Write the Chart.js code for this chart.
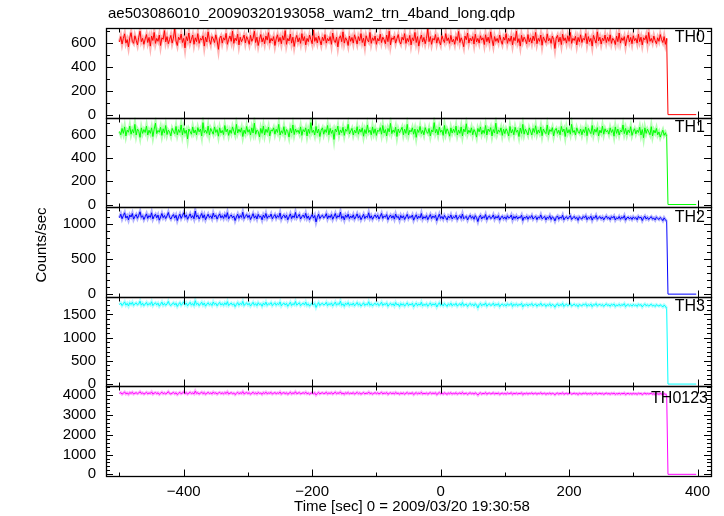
<!DOCTYPE html>
<html>
<head>
<meta charset="utf-8">
<script src="https://cdn.jsdelivr.net/npm/chart.js@4"></script>
<style>
  html, body { margin: 0; padding: 0; background: #fff; }
  #wrap { width: 724px; height: 516px; }
</style>
</head>
<body>
<div id="wrap"><canvas id="lc" width="724" height="516"></canvas></div>
<script>
// light curve: 2 s bins starting at -500 s, then the gap where counts fall to 0
const binStart = -500;
const binSize = 2;
const tailTimes = [354, 398];

const panelNames = ['TH0', 'TH1', 'TH2', 'TH3', 'TH0123'];
const panelColors = ['#ff0000', '#00ff00', '#0000ff', '#00ffff', '#ff00ff'];
const haloColors = ['rgba(255,0,0,0.3)', 'rgba(0,255,0,0.3)', 'rgba(0,0,255,0.3)', 'rgba(0,255,255,0.3)', 'rgba(255,0,255,0.3)'];

const th0 = [
  610,655,592,640,678,600,630,568,645,688,615,598,662,625,585,650,700,612,640,590,
  635,672,605,648,575,660,622,690,598,640,615,668,580,645,632,705,610,655,595,630,
  665,600,642,720,618,580,650,628,676,605,640,560,655,620,685,600,632,668,590,645,
  612,680,598,640,625,662,575,650,610,695,628,590,655,635,605,670,620,548,640,660,
  600,645,625,682,590,632,660,615,700,598,642,620,675,585,650,612,638,668,602,655,
  628,590,665,615,640,700,605,650,580,632,672,610,645,595,660,625,688,600,640,618,
  655,580,635,670,612,648,595,662,625,705,590,640,618,676,600,650,572,632,665,610,
  645,598,680,620,655,585,640,612,668,630,595,710,615,648,602,660,625,585,650,620,
  672,600,640,618,655,590,685,625,605,650,568,638,662,612,695,600,645,625,580,660,
  615,648,600,670,632,592,655,620,680,605,642,575,662,628,610,690,598,645,622,660,
  590,640,618,675,605,650,628,595,668,612,700,585,645,630,660,600,638,672,615,592,
  650,625,680,598,640,612,665,585,645,620,690,605,655,575,632,668,610,648,595,640,
  718,612,655,590,640,625,672,600,648,615,585,662,630,605,680,620,645,598,665,610,
  632,590,655,622,698,605,645,615,570,660,628,685,600,642,618,655,592,675,610,640,
  600,662,625,645,588,670,612,650,600,695,630,578,655,615,640,605,668,622,590,650,
  625,680,598,642,615,660,585,648,620,700,605,638,575,665,612,650,628,595,672,610,
  645,600,660,620,690,595,640,615,668,582,652,625,605,678,618,640,598,660,630,555,
  642,665,610,650,588,675,620,645,600,662,615,690,598,640,622,658,585,648,612,670,
  605,640,625,680,595,655,612,640,575,665,630,600,695,618,650,592,642,620,668,605,
  650,615,670,598,640,625,588,660,612,685,600,645,622,655,578,638,668,610,648,595,
  662,620,640,600,675,612,650,585,645,628,665,598,690,615,640,605,660,622,595,645,
  615,672,630,605,655,590,640,
  0, 0
];
const th1 = [
  628,600,655,612,668,590,640,622,675,605,645,615,690,598,650,630,578,660,612,645,
  620,675,598,640,612,660,585,648,700,610,638,622,665,595,652,615,680,602,640,625,
  590,655,630,610,672,600,645,620,685,598,658,612,640,565,650,628,605,668,615,642,
  600,662,625,650,590,705,618,640,612,675,598,655,630,605,668,620,645,588,660,615,
  638,602,680,625,650,595,642,612,668,630,600,690,615,648,622,660,585,640,610,672,
  622,645,598,660,615,700,605,640,628,582,655,612,675,598,648,620,665,590,642,632,
  660,605,648,620,690,598,635,612,670,600,645,628,580,655,615,685,602,650,622,640,
  610,668,595,645,625,660,590,648,612,705,620,640,598,672,615,650,585,638,660,605,
  645,620,680,600,655,612,640,560,650,625,675,600,642,618,665,595,648,630,690,608,
  632,655,598,640,615,670,605,648,622,660,588,645,610,685,620,640,600,668,612,652,
  595,640,628,662,605,680,615,645,590,655,625,698,610,642,620,665,585,650,618,640,
  665,600,648,612,690,598,640,625,660,605,650,578,645,620,672,610,638,600,662,628,
  612,655,590,642,625,705,615,648,600,665,622,640,595,680,610,652,628,588,660,615,
  648,620,675,598,642,612,668,590,650,625,695,608,640,618,660,600,645,622,580,655,
  625,668,605,640,612,680,598,650,628,662,590,645,615,700,608,642,622,660,595,648,
  610,652,628,590,672,615,645,600,665,622,640,585,658,612,690,605,648,625,598,660,
  632,598,655,620,678,605,642,615,668,592,650,625,610,685,600,645,628,662,590,640,
  655,612,640,600,672,625,650,585,662,615,645,605,690,620,638,598,660,628,612,650,
  600,645,618,668,592,655,630,610,680,602,648,622,662,590,640,615,675,605,652,625,
  638,605,660,620,645,588,668,612,650,598,640,625,685,610,655,600,642,618,670,595,
  630,652,608,640,620,665,598,645,575,660,612,648,625,600,670,590,640,615,655,600,
  625,580,612,640,595,618,585,
  0, 0
];
const th2 = [
  1090,1140,1075,1120,1160,1085,1115,1060,1130,1100,1150,1070,1110,1135,1082,1125,1175,1095,1118,1065,
  1105,1145,1080,1120,1095,1160,1072,1112,1138,1088,1128,1055,1100,1150,1090,1122,1078,1115,1165,1098,
  1070,1110,1135,1085,1125,1050,1102,1140,1080,1118,1160,1095,1130,1068,1108,1145,1088,1120,1075,1185,
  1098,1125,1072,1110,1150,1085,1132,1062,1105,1140,1092,1118,1078,1155,1100,1125,1070,1112,1145,1088,
  1120,1080,1135,1095,1162,1075,1108,1130,1088,1115,1050,1100,1140,1082,1122,1095,1168,1078,1110,1135,
  1092,1125,1065,1105,1148,1085,1118,1072,1138,1098,1112,1060,1128,1090,1150,1080,1115,1102,1142,1075,
  1108,1135,1082,1120,1095,1158,1070,1112,1130,1088,1125,1060,1102,1145,1078,1118,1092,1165,1085,1110,
  1138,1072,1105,1128,1090,1152,1080,1115,1062,1100,1135,1085,1122,1030,1095,1140,1078,1110,1125,1088,
  1105,1148,1075,1118,1092,1135,1068,1108,1150,1082,1120,1098,1170,1080,1112,1060,1128,1095,1140,1078,
  1115,1088,1132,1070,1105,1145,1085,1120,1062,1098,1138,1078,1112,1092,1160,1082,1118,1068,1105,1130,
  1090,1125,1072,1108,1150,1080,1115,1098,1135,1062,1100,1128,1085,1118,1070,1142,1092,1110,1058,1122,
  1085,1118,1065,1102,1138,1078,1110,1092,1128,1055,1098,1132,1075,1112,1088,1150,1070,1105,1082,1120,
  1062,1100,1135,1078,1115,1090,1125,1048,1095,1140,1080,1108,1070,1122,1092,1060,1112,1085,1130,1072,
  1105,1088,1128,1065,1100,1118,1080,1142,1075,1095,1110,1058,1098,1125,1082,1108,1068,1120,1090,1035,
  1098,1125,1072,1105,1088,1135,1062,1100,1115,1078,1092,1130,1070,1108,1085,1120,1055,1095,1112,1075,
  1102,1068,1118,1085,1095,1128,1060,1108,1080,1115,1072,1100,1090,1125,1050,1098,1082,1112,1068,1105,
  1088,1122,1070,1095,1110,1062,1100,1085,1130,1075,1092,1108,1058,1098,1080,1118,1065,1102,1088,1045,
  1095,1115,1068,1100,1082,1125,1060,1090,1105,1072,1098,1120,1065,1088,1110,1075,1095,1052,1102,1085,
  1070,1108,1088,1118,1062,1095,1080,1112,1055,1098,1085,1122,1068,1092,1105,1075,1100,1060,1090,1115,
  1078,1095,1062,1105,1085,1112,1058,1090,1075,1108,1068,1098,1082,1120,1055,1088,1100,1072,1095,1065,
  1102,1078,1092,1060,1108,1085,1098,1050,1088,1112,1072,1095,1065,1090,1105,1070,1085,1058,1098,1080,
  1065,1092,1075,1048,1088,1062,1040,
  0, 0
];
const th3 = [
  1710,1745,1690,1728,1770,1700,1738,1682,1752,1715,1760,1695,1730,1748,1705,1725,1785,1700,1740,1688,
  1722,1758,1698,1735,1710,1772,1690,1728,1750,1705,1742,1678,1718,1765,1700,1738,1695,1725,1780,1712,
  1690,1725,1752,1702,1740,1672,1718,1755,1695,1732,1770,1708,1745,1685,1722,1760,1700,1735,1690,1795,
  1712,1740,1688,1725,1762,1700,1745,1678,1720,1752,1705,1732,1692,1768,1715,1740,1685,1728,1758,1702,
  1735,1695,1750,1708,1775,1690,1722,1745,1700,1730,1668,1715,1755,1698,1738,1710,1780,1692,1725,1748,
  1705,1740,1680,1720,1760,1698,1732,1688,1752,1712,1728,1675,1742,1705,1765,1695,1730,1718,1755,1690,
  1722,1750,1698,1735,1710,1770,1685,1725,1745,1702,1738,1675,1718,1760,1692,1732,1708,1778,1700,1725,
  1752,1688,1720,1742,1705,1765,1695,1728,1678,1715,1748,1700,1735,1650,1710,1755,1692,1725,1740,1702,
  1718,1760,1690,1732,1708,1748,1682,1722,1765,1698,1735,1712,1785,1695,1728,1675,1742,1710,1755,1692,
  1728,1700,1745,1685,1718,1758,1698,1732,1678,1712,1750,1692,1725,1705,1772,1696,1730,1682,1718,1742,
  1702,1738,1688,1720,1762,1692,1728,1710,1748,1675,1715,1740,1698,1730,1682,1755,1705,1722,1670,1735,
  1698,1730,1678,1715,1750,1690,1722,1705,1740,1665,1710,1745,1688,1725,1700,1762,1682,1718,1695,1732,
  1675,1712,1748,1690,1728,1702,1738,1660,1708,1752,1692,1720,1682,1735,1705,1672,1725,1698,1742,1685,
  1718,1700,1740,1678,1712,1730,1692,1755,1688,1708,1722,1670,1710,1738,1695,1720,1680,1732,1702,1640,
  1710,1738,1685,1718,1700,1748,1675,1712,1728,1690,1705,1742,1682,1720,1698,1732,1668,1708,1725,1688,
  1715,1680,1730,1698,1708,1740,1672,1720,1692,1728,1685,1712,1702,1738,1662,1710,1695,1725,1680,1718,
  1700,1735,1682,1708,1722,1675,1712,1698,1742,1688,1705,1720,1670,1710,1692,1730,1678,1715,1700,1655,
  1708,1728,1680,1712,1695,1738,1672,1702,1718,1685,1710,1732,1678,1700,1722,1688,1708,1665,1715,1698,
  1682,1720,1700,1730,1675,1708,1692,1725,1668,1710,1698,1735,1680,1705,1718,1688,1712,1672,1702,1728,
  1690,1708,1675,1718,1698,1725,1670,1702,1688,1720,1680,1710,1695,1732,1668,1700,1712,1685,1708,1678,
  1715,1690,1705,1672,1720,1698,1710,1662,1700,1725,1685,1708,1678,1702,1718,1682,1698,1670,1710,1692,
  1678,1705,1688,1660,1700,1675,1630,
  0, 0
];
const th0123 = [
  4085,4135,4060,4110,4165,4075,4120,4050,4140,4095,4155,4068,4105,4130,4078,4115,4180,4090,4125,4058,
  4100,4150,4075,4118,4090,4170,4062,4108,4140,4082,4128,4045,4098,4160,4080,4120,4070,4110,4185,4092,
  4065,4105,4145,4080,4125,4040,4100,4150,4075,4115,4168,4090,4135,4058,4108,4152,4082,4122,4070,4210,
  4095,4130,4062,4110,4158,4080,4138,4052,4102,4148,4088,4118,4070,4165,4098,4128,4060,4112,4150,4082,
  4122,4072,4140,4090,4175,4068,4105,4135,4082,4115,4038,4098,4150,4078,4125,4092,4182,4072,4110,4140,
  4088,4130,4055,4102,4155,4080,4120,4065,4145,4095,4112,4050,4135,4088,4160,4075,4118,4100,4148,4068,
  4105,4140,4078,4122,4092,4168,4062,4110,4135,4082,4128,4052,4100,4155,4072,4120,4090,4178,4080,4108,
  4142,4068,4102,4130,4088,4160,4075,4115,4055,4098,4138,4080,4125,4020,4092,4145,4072,4108,4128,4085,
  4102,4152,4070,4118,4090,4140,4062,4108,4158,4078,4122,4095,4172,4075,4112,4052,4130,4088,4145,4070,
  4112,4085,4135,4062,4100,4148,4078,4120,4058,4095,4140,4072,4110,4088,4165,4080,4115,4060,4102,4132,
  4082,4125,4068,4105,4152,4072,4115,4092,4138,4050,4098,4128,4078,4118,4065,4145,4088,4108,4052,4122,
  4078,4118,4058,4100,4140,4070,4110,4088,4130,4040,4092,4135,4068,4112,4082,4155,4062,4102,4075,4120,
  4055,4098,4138,4070,4115,4085,4128,4035,4090,4142,4072,4105,4062,4122,4088,4050,4110,4078,4132,4065,
  4102,4080,4128,4058,4095,4118,4072,4145,4065,4090,4108,4048,4095,4125,4075,4105,4060,4120,4085,4010,
  4092,4125,4062,4100,4080,4138,4055,4098,4115,4070,4088,4130,4060,4105,4078,4120,4045,4090,4110,4068,
  4100,4058,4118,4078,4092,4128,4050,4105,4072,4115,4065,4098,4085,4125,4040,4095,4075,4110,4060,4102,
  4082,4120,4062,4092,4108,4055,4098,4080,4130,4068,4088,4105,4048,4095,4072,4115,4058,4100,4082,4030,
  4090,4112,4060,4098,4075,4125,4052,4085,4102,4065,4095,4118,4058,4082,4108,4070,4092,4042,4100,4078,
  4062,4105,4082,4115,4055,4090,4072,4110,4045,4095,4080,4120,4060,4088,4102,4068,4098,4050,4085,4112,
  4070,4092,4055,4102,4078,4110,4048,4088,4065,4105,4058,4095,4075,4118,4040,4082,4098,4062,4092,4055,
  4100,4068,4088,4050,4105,4075,4095,4040,4082,4110,4060,4092,4065,4085,4102,4058,4080,4045,4095,4070,
  4055,4088,4065,4035,4078,4050,4020,
  0, 0
];

// y ranges and tick steps per panel (minor step, labelled step)
const yMins = [-25, -23, -38, -50, -85];
const yMaxs = [727, 748, 1240, 1879, 4450];
const yMinorSteps = [100, 100, 100, 100, 200];
const yMajorSteps = [200, 200, 500, 500, 1000];

const xMin = -521, xMax = 421;

const seriesList = [th0, th1, th2, th3, th0123];
const nBins = th0.length - tailTimes.length;
const times = [];
for (let i = 0; i < nBins; i++) times.push(binStart + i * binSize);
const allTimes = times.concat(tailTimes);

const font = 'Liberation Sans, Arial, Helvetica, sans-serif';

const datasets = [];
seriesList.forEach((vals, i) => {
  const pts = vals.map((v, k) => ({ x: allTimes[k], y: v }));
  // the light halo stands in for the error bars around each bin
  datasets.push({
    label: panelNames[i] + ' err',
    data: pts.slice(0, nBins),
    yAxisID: 'y' + i,
    borderColor: haloColors[i],
    borderWidth: 3,
    pointRadius: 0,
    tension: 0,
    fill: false,
    order: 1
  });
  datasets.push({
    label: panelNames[i],
    data: pts,
    yAxisID: 'y' + i,
    borderColor: panelColors[i],
    borderWidth: 1,
    pointRadius: 0,
    tension: 0,
    fill: false,
    order: 0
  });
});

const scales = {
  x: {
    type: 'linear',
    min: xMin,
    max: xMax,
    grid: { display: false, drawTicks: false },
    border: { display: false },
    ticks: {
      stepSize: 100,
      includeBounds: false,
      padding: 7,
      maxRotation: 0,
      autoSkip: false,
      color: '#000',
      font: { family: font, size: 15 },
      callback: v => (v % 200 === 0 ? (v < 0 ? '\u2212' + Math.abs(v) : String(v)) : '')
    },
    afterFit: s => { s.height = 40; }
  }
};
// declared bottom panel first so the stack comes out TH0 on top
for (let i = 4; i >= 0; i--) {
  scales['y' + i] = {
    type: 'linear',
    position: 'left',
    stack: 'panels',
    stackWeight: 1,
    min: yMins[i],
    max: yMaxs[i],
    grid: { display: false, drawTicks: false },
    border: { display: false },
    ticks: {
      stepSize: yMinorSteps[i],
      includeBounds: false,
      padding: 10,
      autoSkip: false,
      color: '#000',
      font: { family: font, size: 15 },
      callback: v => (v % yMajorSteps[i] === 0 ? String(v) : '')
    },
    afterFit: s => { s.width = 106; }
  };
}

const framePlugin = {
  id: 'frame',
  afterDraw(chart) {
    const ctx = chart.ctx;
    const area = chart.chartArea;
    const xs = chart.scales.x;
    ctx.save();
    ctx.strokeStyle = '#000';
    ctx.lineWidth = 1;
    for (let i = 0; i < 5; i++) {
      const ys = chart.scales['y' + i];
      const top = Math.round(ys.top) + 0.5;
      const bot = Math.round(ys.bottom) + 0.5;
      ctx.beginPath();
      // x ticks at top and bottom, pointing inward
      xs.ticks.forEach(t => {
        const px = Math.round(xs.getPixelForValue(t.value)) + 0.5;
        const len = t.value % 200 === 0 ? 7 : 4;
        ctx.moveTo(px, top); ctx.lineTo(px, top + len);
        ctx.moveTo(px, bot); ctx.lineTo(px, bot - len);
      });
      // y ticks left and right
      ys.ticks.forEach(t => {
        const py = Math.round(ys.getPixelForValue(t.value)) + 0.5;
        const len = t.value % yMajorSteps[i] === 0 ? 7 : 4;
        ctx.moveTo(area.left, py); ctx.lineTo(area.left + len, py);
        ctx.moveTo(area.right, py); ctx.lineTo(area.right - len, py);
      });
      ctx.stroke();
      ctx.lineWidth = 1.3;
      ctx.strokeRect(Math.round(area.left) + 0.5, top, Math.round(area.right - area.left), bot - top);
      ctx.lineWidth = 1;

      ctx.fillStyle = '#000';
      ctx.font = '16px ' + font;
      ctx.textAlign = 'right';
      ctx.textBaseline = 'middle';
      ctx.fillText(panelNames[i], i === 4 ? 708 : 705, ys.top + (i === 4 ? 12 : 10));
    }
    ctx.font = '15px ' + font;
    ctx.textAlign = 'left';
    ctx.textBaseline = 'middle';
    ctx.fillText('ae503086010_20090320193058_wam2_trn_4band_long.qdp', 108, 14);
    ctx.textAlign = 'center';
    ctx.fillText('Time [sec] 0 = 2009/03/20 19:30:58', 412, 507);
    ctx.translate(42, 245);
    ctx.rotate(-Math.PI / 2);
    ctx.fillText('Counts/sec', 0, 0);
    ctx.restore();
  }
};

new Chart(document.getElementById('lc'), {
  type: 'line',
  data: { datasets: datasets },
  options: {
    responsive: false,
    animation: false,
    layout: { padding: { top: 28, right: 13, left: 0, bottom: 0 } },
    plugins: { legend: { display: false }, tooltip: { enabled: false } },
    scales: scales
  },
  plugins: [framePlugin]
});
</script>
</body>
</html>
